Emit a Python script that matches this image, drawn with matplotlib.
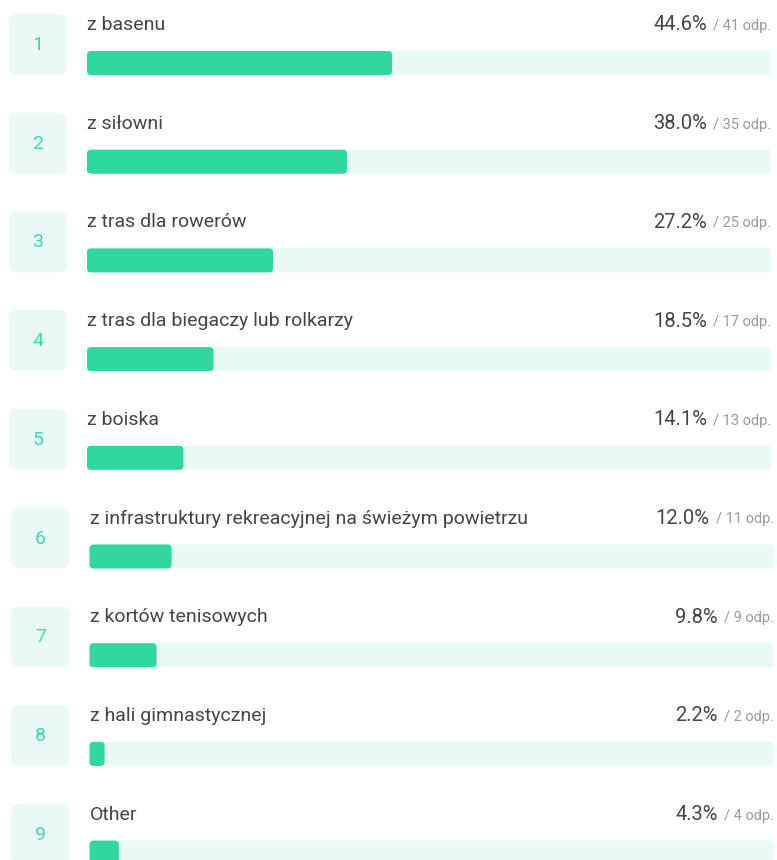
import matplotlib
matplotlib.use("Agg")
import matplotlib.pyplot as plt
from matplotlib.patches import FancyBboxPatch

labels = ["z basenu", "z siłowni", "z tras dla rowerów",
          "z tras dla biegaczy lub rolkarzy", "z boiska",
          "z infrastruktury rekreacyjnej na świeżym powietrzu",
          "z kortów tenisowych", "z hali gimnastycznej", "Other"]
percents = [44.6, 38.0, 27.2, 18.5, 14.1, 12.0, 9.8, 2.2, 4.3]
counts = [41, 35, 25, 17, 13, 11, 9, 2, 4]

GREEN = "#31d7a1"
TRACK = "#e7faf5"
BOXBG = "#eaf9f5"
NUMC = "#3cd9a8"
DARK = "#454545"
GREY = "#9a9a9a"

plt.rcParams['font.family'] = ['Roboto', 'DejaVu Sans']

fig = plt.figure(figsize=(7.77, 8.6), dpi=100)
ax = fig.add_axes([0, 0, 1, 1])
ax.set_xlim(0, 777)
ax.set_ylim(860, 0)
ax.axis("off")

row_h = 98.7
renderer = fig.canvas.get_renderer()

for i, (lab, p, c) in enumerate(zip(labels, percents, counts)):
    top = 14 + i * row_h
    shift = 0 if i < 5 else 2.5
    # number box
    ax.add_patch(FancyBboxPatch((9 + shift, top), 58, 61,
                                boxstyle="round,pad=0,rounding_size=8",
                                fc=BOXBG, ec="none"))
    ax.text(38 + shift, top + 31, str(i + 1), ha="center", va="center",
            fontsize=14, color=NUMC)
    # label
    x0 = 87 + shift
    x1 = 771 + shift
    ax.text(x0, top + 11, lab, ha="left", va="center", fontsize=14,
            color=DARK)
    # track and bar
    by = top + 37
    ax.add_patch(FancyBboxPatch((x0, by), x1 - x0, 24,
                                boxstyle="round,pad=0,rounding_size=4",
                                fc=TRACK, ec="none"))
    w = (x1 - x0) * p / 100
    ax.add_patch(FancyBboxPatch((x0, by), w, 24,
                                boxstyle="round,pad=0,rounding_size=4",
                                fc=GREEN, ec="none"))
    # right texts
    t = ax.text(x1, top + 12, f"/ {c} odp.", ha="right", va="center",
                fontsize=10.5, color=GREY)
    bb = t.get_window_extent(renderer=renderer)
    xl = ax.transData.inverted().transform((bb.x0, 0))[0]
    ax.text(xl - 6, top + 11, f"{p:.1f}%", ha="right", va="center",
            fontsize=14.5, color=DARK)

fig.savefig("out.png", dpi=100)
